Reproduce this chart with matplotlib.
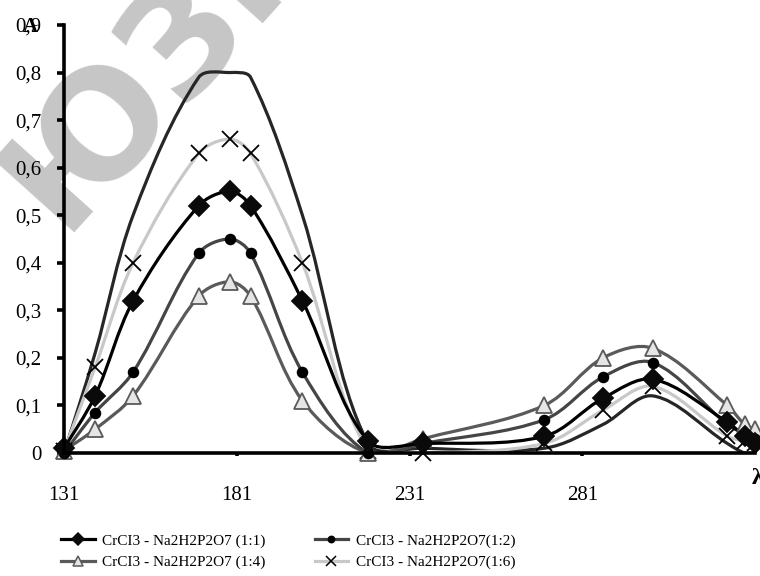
import matplotlib
matplotlib.use("Agg")
import matplotlib.pyplot as plt
from matplotlib.path import Path
from matplotlib.patches import PathPatch
from matplotlib.lines import Line2D
import numpy as np

# wavelength, nm
wavelength = [131, 140, 151, 170, 179, 185, 200, 219, 235, 270, 287, 301.5, 323, 328, 331]

ratio_1_1 = [0.01, 0.12, 0.32, 0.52, 0.55, 0.52, 0.32, 0.025, 0.02, 0.035, 0.115, 0.155, 0.065, 0.035, 0.02]
ratio_1_2 = [0.0, 0.085, 0.17, 0.42, 0.45, 0.42, 0.17, 0.0, 0.02, 0.07, 0.16, 0.19, 0.06, 0.04, 0.03]
ratio_1_4 = [0.005, 0.05, 0.12, 0.33, 0.36, 0.33, 0.11, 0.0, 0.03, 0.10, 0.20, 0.22, 0.10, 0.06, 0.05]
ratio_1_6 = [0.005, 0.18, 0.40, 0.63, 0.66, 0.63, 0.40, 0.005, 0.0, 0.02, 0.09, 0.14, 0.035, 0.025, 0.02]
ratio_pure = [0.0, 0.21, 0.50, 0.79, 0.80, 0.79, 0.50, 0.02, 0.01, 0.01, 0.06, 0.12, 0.02, 0.0, 0.0]

labels = [
    "CrCI3 - Na2H2P2O7 (1:1)",
    "CrCI3 - Na2H2P2O7(1:2)",
    "CrCI3 - Na2H2P2O7 (1:4)",
    "CrCI3 - Na2H2P2O7(1:6)",
]

y_ticks = [0.0, 0.1, 0.2, 0.3, 0.4, 0.5, 0.6, 0.7, 0.8, 0.9]
x_ticks = [131, 181, 231, 281]

SERIF = ["Liberation Serif", "DejaVu Serif"]


def smooth_path(ax, xs, ys):
    """Smoothed line (cubic Bezier) through the points, built in screen space."""
    pts = ax.transData.transform(np.column_stack([xs, ys]))
    n = len(pts)
    seg = np.linalg.norm(np.diff(pts, axis=0), axis=1)
    verts = [pts[0]]
    codes = [Path.MOVETO]
    for i in range(n - 1):
        a = max(i - 1, 0)
        b = min(i + 2, n - 1)
        p0, p1 = pts[i], pts[i + 1]
        l_prev = seg[i - 1] if i > 0 else seg[i]
        l_next = seg[i + 1] if i + 1 < n - 1 else seg[i]
        t0 = (p1 - pts[a]) * seg[i] / (l_prev + seg[i]) / 1.5
        t1 = (pts[b] - p0) * seg[i] / (seg[i] + l_next) / 1.5
        verts += [p0 + t0 / 2, p1 - t1 / 2, p1]
        codes += [Path.CURVE4] * 3
    verts = ax.transData.inverted().transform(np.array(verts))
    return Path(verts, codes)


fig = plt.figure(figsize=(7.6, 5.76), dpi=100)
ax = fig.add_axes([64 / 760, 1 - 453 / 576, (755 - 64) / 760, (453 - 25) / 576])
ax.set_xlim(131, 331)
ax.set_ylim(0, 0.9)

# faint watermark behind everything
ax.text(0.257, 0.962, "ЮЗГУ", transform=fig.transFigure, rotation=48,
        rotation_mode="anchor", ha="center", va="center", fontsize=108,
        fontweight="bold", family="DejaVu Sans", color="#c6c6c6",
        zorder=0, clip_on=False)

series = [
    # y, line colour, marker, marker size, face, edge, label index
    (ratio_pure, "#262626", None, 0, None, None, None),
    (ratio_1_6, "#c8c8c8", "x", 11.5, "black", "black", 3),
    (ratio_1_4, "#5a5a5a", "^", 12, "#e6e6e6", "#5a5a5a", 2),
    (ratio_1_2, "#454545", "o", 7, "black", "black", 1),
    (ratio_1_1, "#000000", "D", 10, "#0a0a0a", "#0a0a0a", 0),
]

handles = {}
for k, (vals, color, marker, ms, face, edge, idx) in enumerate(series):
    ax.add_patch(PathPatch(smooth_path(ax, wavelength, vals), facecolor="none",
                           edgecolor=color, lw=2.3, zorder=2 + k * 0.1,
                           capstyle="round", joinstyle="round"))
    if marker is None:
        continue
    ax.plot(wavelength, vals, ls="none", marker=marker, ms=ms,
            mfc=face, mec=edge, mew=1.3, zorder=3 + k * 0.1, clip_on=False)
    handles[idx] = Line2D([], [], color=color, lw=2.3, marker=marker,
                          ms=ms * 0.65, mfc=face, mec=edge, mew=1.1)

ax.set_xticks(x_ticks)
ax.set_xticklabels([str(t) for t in x_ticks])
ax.set_yticks(y_ticks)
ax.set_yticklabels(["0" if v == 0 else f"{v:.1f}".replace(".", ",") for v in y_ticks])

for side in ("top", "right"):
    ax.spines[side].set_visible(False)
for side in ("left", "bottom"):
    ax.spines[side].set_linewidth(2.6)
    ax.spines[side].set_zorder(4)

ax.tick_params(axis="y", direction="out", length=5, width=2.6, pad=11,
               labelsize=15)
ax.tick_params(axis="x", direction="out", length=2, width=2.6, pad=22,
               labelsize=15)
for lbl in ax.get_xticklabels() + ax.get_yticklabels():
    lbl.set_family(SERIF)

fig.text(30 / 760, 1 - 27 / 576, "A", ha="center", va="center",
         fontsize=15, fontweight="bold", family=SERIF)
fig.text(752 / 760, 1 - 478 / 576, "λ", ha="left", va="center",
         fontsize=17, fontweight="bold", family=SERIF)

order = [0, 2, 1, 3]
fig.legend([handles[i] for i in order], [labels[i] for i in order],
           loc="upper left", bbox_to_anchor=(55 / 760, 1 - 528 / 576),
           ncol=2, frameon=False, handlelength=2.2, handletextpad=0.5,
           columnspacing=3.2, labelspacing=0.5, borderaxespad=0,
           prop={"family": SERIF, "size": 11})

fig.savefig("out.png", dpi=100)
